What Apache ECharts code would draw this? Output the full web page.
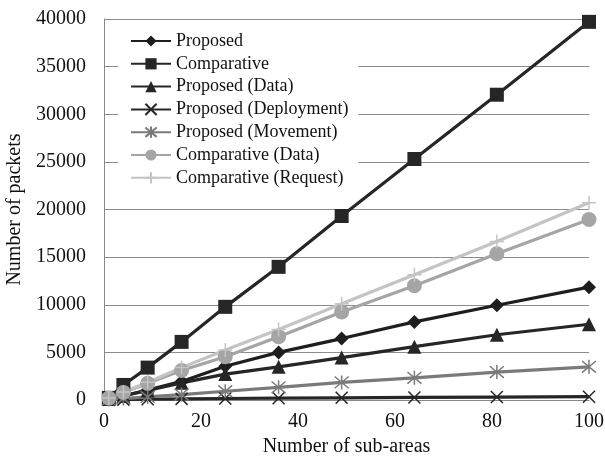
<!DOCTYPE html>
<html><head><meta charset="utf-8">
<script src="https://cdn.jsdelivr.net/npm/echarts@6/dist/echarts.min.js"></script>
<style>html,body{margin:0;padding:0;background:#fff}#c{width:605px;height:463px}</style>
</head><body><div id="c"></div>
<script>
const subAreas = [1, 4, 9, 16, 25, 36, 49, 64, 81, 100];
const proposed = [120, 450, 1050, 1950, 3550, 5000, 6450, 8200, 9950, 11850];
const comparative = [220, 1580, 3400, 6100, 9780, 13980, 19320, 25300, 32050, 39700];
const proposedData = [100, 430, 1000, 1800, 2720, 3480, 4450, 5600, 6850, 7950];
const proposedDeployment = [10, 40, 80, 120, 160, 190, 230, 270, 310, 350];
const proposedMovement = [40, 150, 320, 570, 920, 1330, 1850, 2330, 2930, 3480];
const comparativeData = [200, 800, 1750, 3100, 4550, 6650, 9250, 12000, 15350, 18950];
const comparativeRequest = [210, 850, 1870, 3400, 5250, 7400, 10100, 13150, 16650, 20700];
const yTicks = {min: 0, max: 40000, interval: 5000};
const xTicks = {min: 0, max: 100, interval: 20};

const X_PATH = 'path://M0,0L10,10M10,0L0,10';
const AST_PATH = 'path://M0,0L10,10M10,0L0,10M5,-1L5,11';
const PLUS_PATH = 'path://M5,0L5,10M0,5L10,5';
const FONT = "'Liberation Serif', 'Times New Roman', serif";

function mk(name, data, color, symbol, size, stroke) {
  return {
    name, type: 'line', data: subAreas.map((x, i) => [x, data[i]]),
    symbol, symbolSize: size, showSymbol: true,
    lineStyle: {color, width: 3.2},
    itemStyle: stroke ? {color: 'none', borderColor: color, borderWidth: 1.5} : {color, borderWidth: 0},
    emphasis: {disabled: true}, animation: false
  };
}

const chart = echarts.init(document.getElementById('c'), null, {renderer: 'canvas'});
chart.setOption({
  animation: false,
  textStyle: {fontFamily: FONT},
  grid: {left: 104, right: 16, top: 19, bottom: 63, containLabel: false, outerBoundsMode: 'none'},
  legend: {
    orient: 'vertical', left: 118, top: 28, itemGap: 4.8, itemWidth: 40, itemHeight: 14,
    backgroundColor: '#fff', padding: [4, 10, 6, 12],
    textStyle: {fontFamily: FONT, fontSize: 18, color: '#111'},
    data: ['Proposed', 'Comparative', 'Proposed (Data)', 'Proposed (Deployment)', 'Proposed (Movement)', 'Comparative (Data)', 'Comparative (Request)']
  },
  xAxis: {
    type: 'value', min: xTicks.min, max: xTicks.max, interval: xTicks.interval,
    name: 'Number of sub-areas', nameLocation: 'middle', nameGap: 32,
    nameTextStyle: {fontFamily: FONT, fontSize: 20, color: '#111'},
    axisLine: {show: true, lineStyle: {color: '#888', width: 1}},
    axisTick: {show: false},
    axisLabel: {fontFamily: FONT, fontSize: 20, color: '#111', margin: 12},
    splitLine: {show: false}
  },
  yAxis: {
    type: 'value', min: yTicks.min, max: yTicks.max, interval: yTicks.interval,
    name: 'Number of packets', nameLocation: 'middle', nameGap: 73, nameRotate: 90,
    nameTextStyle: {fontFamily: FONT, fontSize: 20, color: '#111'},
    axisLine: {show: true, lineStyle: {color: '#888', width: 1}},
    axisTick: {show: false},
    axisLabel: {fontFamily: FONT, fontSize: 20, color: '#111', margin: 18, formatter: v => String(v)},
    splitLine: {show: true, lineStyle: {color: '#8c8c8c', width: 1}}
  },
  series: [
    mk('Proposed', proposed, '#1e1e1e', 'diamond', 14),
    mk('Comparative', comparative, '#262626', 'rect', 14),
    mk('Proposed (Data)', proposedData, '#262626', 'triangle', 14),
    mk('Proposed (Deployment)', proposedDeployment, '#262626', X_PATH, 12, true),
    mk('Proposed (Movement)', proposedMovement, '#7a7a7a', AST_PATH, 14, true),
    mk('Comparative (Data)', comparativeData, '#a5a5a5', 'circle', 15),
    mk('Comparative (Request)', comparativeRequest, '#c4c4c4', PLUS_PATH, 14, true)
  ]
});
</script></body></html>
